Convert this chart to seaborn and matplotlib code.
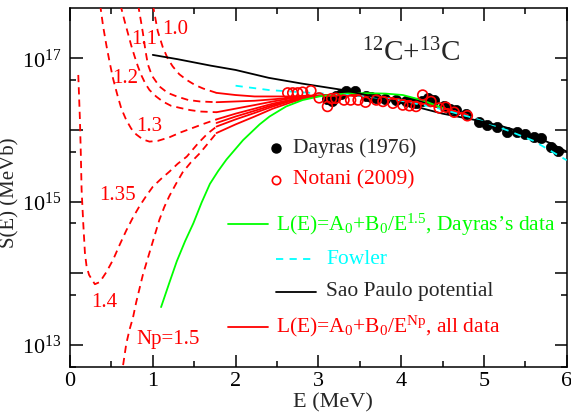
import numpy as np
import matplotlib
matplotlib.use("Agg")
import matplotlib.pyplot as plt
import seaborn as sns
from matplotlib.ticker import FixedLocator, FuncFormatter, MultipleLocator

# --- values (E in MeV, log10 S(E) in MeV b) ---
dayras_E = [3.11, 3.16, 3.21, 3.27, 3.33, 3.44, 3.57, 3.63, 3.70, 3.81, 3.94, 4.06,
            4.12, 4.18, 4.25, 4.32, 4.40, 4.52, 4.59, 4.66, 4.78, 4.94, 5.04, 5.16,
            5.28, 5.40, 5.50, 5.60, 5.69, 5.81, 5.90]
dayras_logS = [16.44, 16.40, 16.47, 16.50, 16.54, 16.54, 16.47, 16.46, 16.45, 16.44, 16.42, 16.40,
               16.39, 16.38, 16.40, 16.45, 16.42, 16.33, 16.30, 16.28, 16.22, 16.12, 16.07, 16.04,
               15.98, 15.98, 15.94, 15.90, 15.89, 15.76, 15.71]

notani_E = [2.63, 2.69, 2.75, 2.81, 2.91, 3.01, 3.11, 3.16, 3.21, 3.31, 3.39, 3.48, 3.57,
            3.70, 3.78, 3.90, 4.02, 4.10, 4.18, 4.26, 4.36, 4.46, 4.54, 4.64, 4.80]
notani_logS = [16.52, 16.52, 16.52, 16.53, 16.55, 16.45, 16.33, 16.44, 16.445, 16.42, 16.42, 16.42, 16.39,
               16.42, 16.40, 16.375, 16.35, 16.34, 16.33, 16.49, 16.40, 16.31, 16.32, 16.25, 16.20]

green_E = [1.10, 1.20, 1.29, 1.39, 1.49, 1.59, 1.69, 1.79, 1.89, 2.09, 2.29, 2.41,
           2.61, 2.81, 3.01, 3.21, 3.41, 3.61, 3.81, 4.02, 4.25, 4.50]
green_logS = [13.53, 13.87, 14.17, 14.45, 14.70, 14.99, 15.25, 15.43, 15.59, 15.86, 16.08, 16.19,
              16.33, 16.42, 16.47, 16.50, 16.515, 16.515, 16.51, 16.49, 16.42, 16.31]

fowler_E = [2.0, 2.4, 2.9, 3.4, 3.9, 4.4, 4.9, 5.3, 5.6, 6.0]
fowler_logS = [16.62, 16.56, 16.52, 16.49, 16.43, 16.32, 16.16, 15.99, 15.85, 15.58]

saopaulo_E = [1.0, 1.3, 1.7, 2.0, 2.4, 2.8, 3.3, 3.9, 4.2, 4.5, 4.9, 5.2, 5.5, 5.8, 6.0]
saopaulo_logS = [17.05, 16.99, 16.90, 16.84, 16.73, 16.65, 16.56, 16.41, 16.32, 16.23, 16.14,
                 16.06, 15.96, 15.82, 15.70]

# low-energy extrapolations (dashed), one per Np
np10_E = [1.00, 1.02, 1.06, 1.12, 1.18, 1.24, 1.32, 1.41, 1.51, 1.61, 1.77]
np10_logS = [17.75, 17.63, 17.38, 17.16, 17.00, 16.89, 16.78, 16.70, 16.63, 16.58, 16.52]
np11_E = [0.82, 0.83, 0.86, 0.88, 0.91, 0.94, 0.99, 1.08, 1.18, 1.29, 1.43, 1.57, 1.77]
np11_logS = [17.75, 17.70, 17.50, 17.36, 17.12, 16.92, 16.76, 16.61, 16.52, 16.47, 16.42, 16.40, 16.39]
np12_E = [0.61, 0.62, 0.66, 0.70, 0.74, 0.78, 0.82, 0.86, 0.91, 0.96, 1.04, 1.12, 1.22,
          1.33, 1.45, 1.57, 1.77]
np12_logS = [17.75, 17.70, 17.52, 17.35, 17.18, 17.03, 16.89, 16.77, 16.65, 16.56, 16.47, 16.40, 16.34,
             16.31, 16.28, 16.26, 16.25]
np13_E = [0.36, 0.37, 0.40, 0.44, 0.48, 0.52, 0.57, 0.62, 0.68, 0.74, 0.80, 0.88, 0.96,
          1.06, 1.20, 1.34, 1.48, 1.62, 1.77]
np13_logS = [17.75, 17.70, 17.45, 17.18, 16.94, 16.72, 16.50, 16.30, 16.14, 16.02, 15.94, 15.87, 15.84,
             15.85, 15.90, 15.97, 16.03, 16.09, 16.15]
np14_E = [0.10, 0.12, 0.13, 0.14, 0.16, 0.18, 0.20, 0.23, 0.30, 0.36, 0.44, 0.52, 0.60, 0.68,
          0.76, 0.84, 0.92, 1.00, 1.10, 1.20, 1.30, 1.41, 1.55, 1.66, 1.77]
np14_logS = [16.77, 16.14, 15.70, 15.17, 14.70, 14.29, 14.10, 13.98, 13.85, 13.88, 14.02, 14.19, 14.40, 14.60,
             14.78, 14.94, 15.08, 15.21, 15.32, 15.42, 15.53, 15.63, 15.82, 15.95, 16.05]
np15_E = [0.63, 0.64, 0.68, 0.72, 0.76, 0.80, 0.88, 0.96, 1.02, 1.08, 1.14, 1.20, 1.28,
          1.36, 1.46, 1.57, 1.67, 1.77]
np15_logS = [12.55, 12.71, 13.02, 13.22, 13.38, 13.60, 13.98, 14.29, 14.52, 14.75, 14.93, 15.08, 15.25,
             15.41, 15.55, 15.68, 15.82, 15.96]

# fitted region (solid), shared grid
fit_E = [1.77, 2.0, 2.23, 2.45, 2.65, 2.85, 3.0, 3.3, 3.6, 3.9, 4.2, 4.5, 4.8]
fit_np10 = [16.52, 16.49, 16.47, 16.47, 16.47, 16.48, 16.48, 16.49, 16.48, 16.44, 16.38, 16.31, 16.21]
fit_np11 = [16.39, 16.40, 16.41, 16.43, 16.45, 16.47, 16.48, 16.49, 16.48, 16.44, 16.38, 16.31, 16.21]
fit_np12 = [16.25, 16.30, 16.35, 16.40, 16.44, 16.47, 16.48, 16.49, 16.48, 16.44, 16.38, 16.31, 16.21]
fit_np13 = [16.15, 16.23, 16.30, 16.37, 16.42, 16.46, 16.48, 16.49, 16.48, 16.44, 16.38, 16.31, 16.21]
fit_np135 = [16.10, 16.19, 16.27, 16.35, 16.41, 16.46, 16.48, 16.49, 16.48, 16.44, 16.38, 16.31, 16.21]
fit_np14 = [16.05, 16.15, 16.24, 16.33, 16.40, 16.45, 16.48, 16.49, 16.48, 16.44, 16.38, 16.31, 16.21]
fit_np15 = [15.96, 16.08, 16.19, 16.30, 16.38, 16.45, 16.48, 16.49, 16.48, 16.44, 16.38, 16.31, 16.21]

curve_labels = ["1.0", "1.1", "1.2", "1.3", "1.35", "1.4", "Np=1.5"]
label_E = [1.27, 0.90, 0.67, 0.96, 0.57, 0.41, 1.18]
label_logS = [17.40, 17.27, 16.72, 16.05, 15.09, 13.60, 13.08]


def S(logs):
    return np.power(10.0, np.asarray(logs))


sns.set_theme(style="ticks")
plt.rcParams["font.family"] = ["Liberation Serif", "DejaVu Serif"]
plt.rcParams["mathtext.fontset"] = "custom"
plt.rcParams["mathtext.rm"] = "Liberation Serif"
plt.rcParams["mathtext.it"] = "Liberation Serif:italic"
plt.rcParams["mathtext.bf"] = "Liberation Serif:bold"

fig, ax = plt.subplots(figsize=(5.71, 4.2), dpi=100)
fig.subplots_adjust(left=0.1226, right=0.9925, bottom=0.127, top=0.980)
ax.set_yscale("log")

# data
sns.scatterplot(x=dayras_E, y=S(dayras_logS), ax=ax, color="black", s=55,
                edgecolor="black", linewidth=0.5, zorder=2)
sns.scatterplot(x=notani_E, y=S(notani_logS), ax=ax, s=50, marker="o",
                facecolors="none", edgecolors="red", linewidth=1.2, zorder=5)

dash = (0, (4.0, 2.8))
lw = 1.3
for e, ls in [(np10_E, np10_logS), (np11_E, np11_logS), (np12_E, np12_logS),
              (np13_E, np13_logS), (np14_E, np14_logS), (np15_E, np15_logS)]:
    sns.lineplot(x=e, y=S(ls), ax=ax, color="red", lw=lw, linestyle=dash,
                 sort=False, estimator=None, zorder=3)

for ls in [fit_np10, fit_np11, fit_np12, fit_np13, fit_np135, fit_np14, fit_np15]:
    sns.lineplot(x=fit_E, y=S(ls), ax=ax, color="red", lw=lw,
                 sort=False, estimator=None, zorder=3)

sns.lineplot(x=green_E, y=S(green_logS), ax=ax, color="lime", lw=lw,
             sort=False, estimator=None, zorder=4)
sns.lineplot(x=fowler_E, y=S(fowler_logS), ax=ax, color="cyan", lw=lw,
             linestyle=(0, (4.0, 3.5)), sort=False, estimator=None, zorder=4)
sns.lineplot(x=saopaulo_E, y=S(saopaulo_logS), ax=ax, color="black", lw=lw,
             sort=False, estimator=None, zorder=4)

for txt, e, ls in zip(curve_labels, label_E, label_logS):
    ax.text(e, 10 ** ls, txt, color="red", fontsize=15, ha="center", va="center")

# axes
ax.set_xlim(0, 6)
ax.set_ylim(5e12, 5e17)
ax.xaxis.set_major_locator(MultipleLocator(1))
ax.xaxis.set_minor_locator(MultipleLocator(0.5))
ax.yaxis.set_major_locator(FixedLocator([1e13, 1e14, 1e15, 1e16, 1e17]))
ax.yaxis.set_minor_locator(FixedLocator([5e12, 5e13, 5e14, 5e15, 5e16]))
ax.yaxis.set_major_formatter(FuncFormatter(
    lambda v, p: r"$\mathdefault{10^{%d}}$" % round(np.log10(v)) if round(np.log10(v)) % 2 else ""))
ax.tick_params(which="both", direction="in", top=True, right=True, width=1.1,
               labelsize=16, colors="black")
ax.tick_params(which="major", length=9)
ax.tick_params(which="minor", length=4.5)
ax.tick_params(axis="x", pad=4)
ax.tick_params(axis="y", pad=6)
for sp in ax.spines.values():
    sp.set_linewidth(1.1)
    sp.set_color("black")

ax.set_xlabel("E (MeV)", fontsize=16)
ax.xaxis.set_label_coords(0.529, -0.075)
ax.set_ylabel("S(E) (MeVb)", fontsize=15)
ax.yaxis.set_label_coords(-0.102, 0.485)

ax.text(0.687, 0.875, r"$^{12}$C+$^{13}$C", transform=ax.transAxes, fontsize=21,
        ha="center", va="center")

# legend, drawn by hand to follow the original's staggered layout
tr = ax.transAxes
ax.plot([0.4155], [0.611], "o", color="black", ms=6.5, transform=tr)
ax.text(0.449, 0.611, "Dayras (1976)", transform=tr, fontsize=15.5, va="center")
ax.plot([0.4155], [0.521], "o", mfc="none", mec="red", mew=1.2, ms=6, transform=tr)
ax.text(0.449, 0.521, "Notani (2009)", transform=tr, fontsize=15.5, va="center", color="red")
ax.plot([0.318, 0.3986], [0.397, 0.397], color="lime", lw=lw, transform=tr)
ax.text(0.4155, 0.397, r"L(E)=A$_0$+B$_0$/E$^{1.5}$, Dayras’s data", transform=tr,
        fontsize=15.5, va="center", color="lime")
ax.plot([0.4155, 0.4959], [0.3005, 0.3005], color="cyan", lw=lw, linestyle=(0, (4.0, 3.5)),
        transform=tr)
ax.text(0.516, 0.3005, "Fowler", transform=tr, fontsize=15.5, va="center", color="cyan")
ax.plot([0.4155, 0.4959], [0.2093, 0.2093], color="black", lw=lw, transform=tr)
ax.text(0.516, 0.2093, "Sao Paulo potential", transform=tr, fontsize=15.5, va="center")
ax.plot([0.318, 0.3986], [0.1116, 0.1116], color="red", lw=lw, transform=tr)
ax.text(0.4155, 0.1116, r"L(E)=A$_0$+B$_0$/E$^{\mathrm{Np}}$, all data", transform=tr,
        fontsize=15.5, va="center", color="red")

fig.savefig("out.png", dpi=100)
